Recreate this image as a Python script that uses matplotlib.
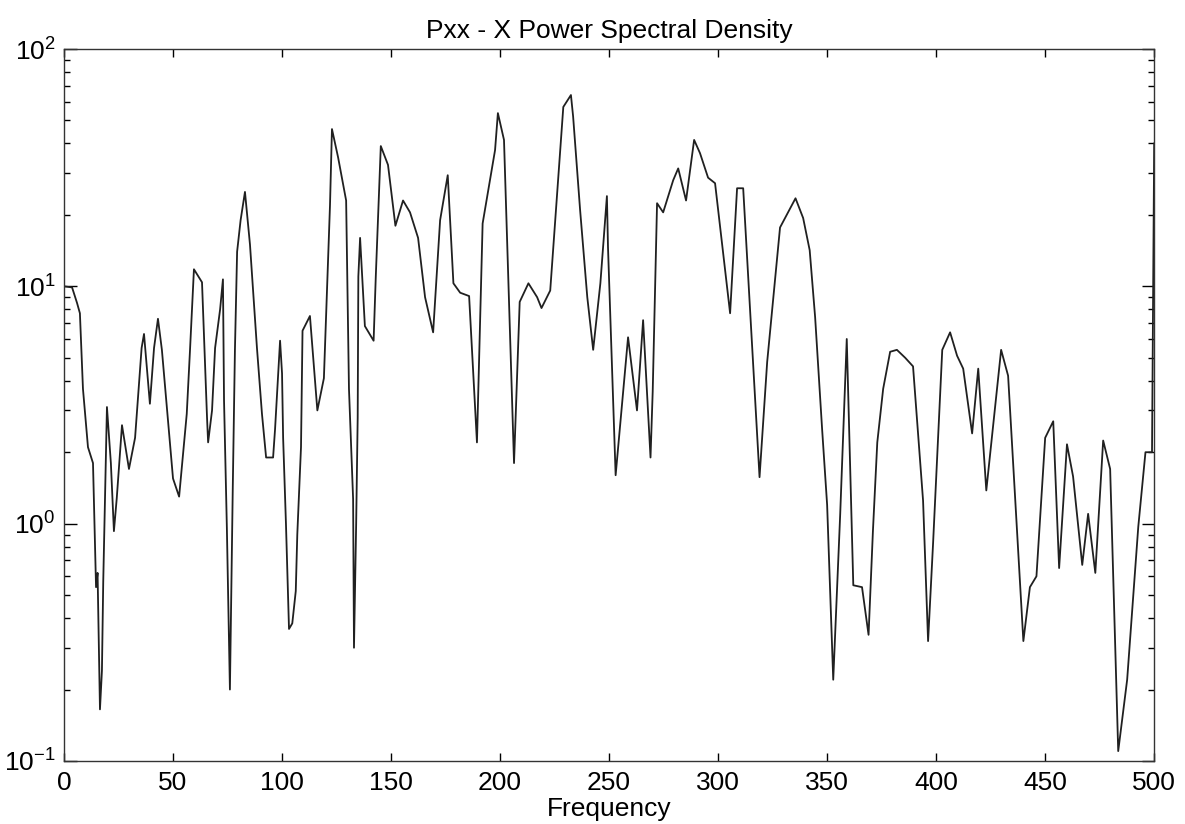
import numpy as np
import matplotlib
matplotlib.use("Agg")
import matplotlib.pyplot as plt
from matplotlib.ticker import LogLocator, FixedLocator

plt.rcParams['font.family'] = ['Liberation Sans', 'DejaVu Sans']
plt.rcParams['mathtext.fontset'] = 'custom'
plt.rcParams['mathtext.rm'] = 'Liberation Sans'
plt.rcParams['mathtext.default'] = 'regular'
plt.rcParams['axes.unicode_minus'] = False

# values
freq = [0, 3.7, 6, 7.3, 8.7, 11, 13.3, 14.7, 15.4, 16.5, 17.4, 18, 19.7, 21.5, 22.9,
        24.2, 26.6, 29.8, 32.6, 35.6, 36.7, 39.4, 41.3, 43.1, 44.9, 48.6, 50, 52.8,
        56.3, 57.8, 59.6, 63.3, 65.6, 66.1, 67.9, 69.3, 71.6, 72.9, 73.4, 74.7, 76.1,
        77.4, 78.4, 79.4, 81, 83, 85.3, 88.5, 90.8, 92.7, 95.9, 96.8, 99.1, 100, 100.5,
        101.8, 103.2, 104.7, 106.3, 107, 108.7, 109.4, 112.8, 114.7, 116.2, 119.2, 122,
        122.9, 125.7, 129.4, 130.7, 132.6, 133, 134, 134.7, 135, 135.8, 138, 142, 143,
        145.3, 148.6, 152, 155.5, 158.7, 162.4, 165.6, 169.3, 172.5, 176, 178.6, 181.7,
        185.8, 189.4, 192, 197.7, 199, 201.8, 206.4, 209, 213, 217, 219, 223, 225, 229,
        232.5, 233.5, 236.7, 240, 242.7, 246, 249, 249.5, 253, 258.7, 262.8, 265.6, 269,
        270, 272, 274.8, 279.4, 281.7, 285.3, 289, 291.7, 295.4, 298.6, 301.8, 305.5,
        308.7, 311.5, 319, 322.5, 328.4, 330.7, 335.5, 339, 342, 344.5, 347.7, 350,
        352.8, 356, 359, 362, 366, 369, 371, 373, 375.7, 378.9, 382, 385.8, 389.4, 394,
        396.3, 398.6, 402.8, 406.4, 409.6, 412.4, 416.5, 419.3, 423, 429.8, 433, 440,
        443, 446, 450, 453.7, 456.4, 460, 462.8, 467, 469.7, 473, 476.6, 479.8, 483.5,
        487.6, 492.7, 496, 499, 500]
pxx = [10.0, 9.9, 8.5, 7.7, 3.7, 2.1, 1.8, 0.54, 0.62, 0.165, 0.24, 0.57, 3.1, 1.8, 0.93,
       1.28, 2.6, 1.7, 2.3, 5.5, 6.3, 3.2, 5.5, 7.3, 5.4, 2.2, 1.55, 1.3,
       2.9, 5.4, 11.8, 10.4, 2.8, 2.2, 3.0, 5.5, 8.0, 10.7, 3.3, 0.96, 0.2,
       1.4, 5.4, 14, 19, 25, 15, 5.5, 2.9, 1.9, 1.9, 2.5, 5.9, 4.3, 2.3,
       1.0, 0.36, 0.38, 0.52, 0.9, 2.1, 6.5, 7.5, 4.5, 3.0, 4.1, 22,
       46, 35, 23, 3.7, 1.27, 0.3, 1.0, 2.8, 11, 16, 6.8, 5.9, 11,
       39, 32.5, 18, 23, 20.5, 16, 9.0, 6.4, 19, 29.4, 10.3, 9.4,
       9.1, 2.2, 18.4, 37.5, 53.7, 41.4, 1.8, 8.6, 10.3, 9.0, 8.1, 9.6, 17.3, 57,
       64, 52, 21, 9.0, 5.4, 10.3, 24, 14.6, 1.6, 6.1, 3.0, 7.2, 1.9,
       3.6, 22.4, 20.5, 28, 31.4, 23, 41.4, 36.4, 28.7, 27.2, 15.2, 7.7,
       25.9, 25.9, 1.57, 4.8, 17.7, 19.4, 23.5, 19.4, 14.2, 7.4, 2.5, 1.2,
       0.22, 1.1, 6.0, 0.55, 0.54, 0.34, 0.93, 2.2, 3.7, 5.3, 5.4, 5.0, 4.6, 1.25,
       0.32, 0.83, 5.4, 6.4, 5.1, 4.5, 2.4, 4.5, 1.38, 5.4, 4.2, 0.32,
       0.54, 0.6, 2.3, 2.7, 0.65, 2.16, 1.58, 0.67, 1.1, 0.62, 2.24, 1.7, 0.11,
       0.22, 0.97, 2.0, 2.0, 40]

xticks = [0, 50, 100, 150, 200, 250, 300, 350, 400, 450, 500]

fig = plt.figure(figsize=(11.85, 8.24), dpi=100)
ax = fig.add_axes([0.054, 0.0765, 0.92, 0.864])

ax.semilogy(freq, pxx, color='#202020', linewidth=1.3)

ax.set_xlim(0, 500)
ax.set_ylim(0.1, 100)
ax.xaxis.set_major_locator(FixedLocator(xticks))
ax.yaxis.set_major_locator(LogLocator(base=10))
ax.yaxis.set_minor_locator(LogLocator(base=10, subs=np.arange(2, 10)))

ax.tick_params(which='both', direction='in', top=True, right=True, labelsize=19)
ax.tick_params(axis='x', which='major', length=6, width=1, pad=7)
ax.tick_params(axis='y', which='major', length=9, width=1, pad=6)
ax.tick_params(axis='y', which='minor', length=4.5, width=1)
for s in ax.spines.values():
    s.set_linewidth(1.0)
    s.set_color('#333333')

ax.set_title('Pxx - X Power Spectral Density', fontsize=19, pad=8)
ax.set_xlabel('Frequency', fontsize=19, labelpad=2)

fig.savefig('out.png', dpi=100)
